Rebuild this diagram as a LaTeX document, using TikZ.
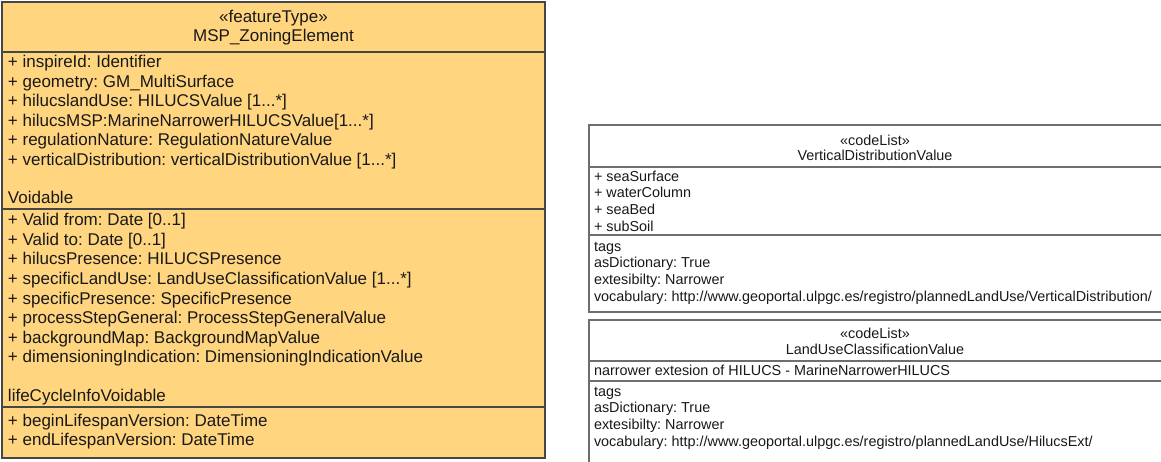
\documentclass[tikz,border=0pt]{standalone}
\usepackage{fontspec}
\setmainfont{Liberation Sans}
\usetikzlibrary{positioning}

\definecolor{featfill}{RGB}{255,213,128}
\definecolor{featline}{RGB}{70,70,70}
\definecolor{codeline}{RGB}{110,110,110}
\newcommand{\tdots}{...}
\frenchspacing

\begin{document}
\begin{tikzpicture}[x=1pt,y=-1pt,
  every node/.style={inner sep=0pt,outer sep=0pt,text=black!90},
  big/.style={font=\fontsize{17}{19}\selectfont,anchor=base west},
  bighead/.style={font=\fontsize{17}{19}\selectfont,anchor=base},
  small/.style={font=\fontsize{14.4}{16}\selectfont,anchor=base west},
  smallhead/.style={font=\fontsize{14.4}{16}\selectfont,anchor=base}]

  \useasboundingbox (0,0) rectangle (1161,462);
  \clip (0,0) rectangle (1161,462);

  % feature type box
  \filldraw[fill=featfill,draw=featline,line width=1.4pt] (2,2) rectangle (545,458);
  \draw[featline,line width=1.3pt] (2,52)--(545,52) (2,209)--(545,209) (2,407)--(545,407);

  \node[bighead] (zst) at (273.5,22.8) {«featureType»};
  \node[bighead] (zname) at (273.5,42) {MSP\_ZoningElement};

  \foreach \txt [count=\i] in {{+ inspireId: Identifier},{+ geometry: GM\_MultiSurface},
    {+ hilucslandUse: HILUCSValue [1\tdots*]},{+ hilucsMSP:MarineNarrowerHILUCSValue[1\tdots*]},
    {+ regulationNature: RegulationNatureValue},{+ verticalDistribution: verticalDistributionValue [1\tdots*]}}
    \node[big] (attr\i) at (8,{68+19.5*(\i-1)}) {\txt};
  \node[big] (voidable) at (8,203.3) {Voidable};

  \foreach \txt [count=\i] in {{+ Valid from: Date [0..1]},{+ Valid to: Date [0..1]},
    {+ hilucsPresence: HILUCSPresence},{+ specificLandUse: LandUseClassificationValue [1\tdots*]},
    {+ specificPresence: SpecificPresence},{+ processStepGeneral: ProcessStepGeneralValue},
    {+ backgroundMap: BackgroundMapValue},{+ dimensioningIndication: DimensioningIndicationValue}}
    \node[big] (void\i) at (8,{226+19.5*(\i-1)}) {\txt};
  \node[big] (lifecycle) at (8,401.1) {lifeCycleInfoVoidable};

  \node[big] (life1) at (8,426) {+ beginLifespanVersion: DateTime};
  \node[big] (life2) at (8,445.5) {+ endLifespanVersion: DateTime};

  % code list VerticalDistributionValue
  \draw[codeline,line width=1.2pt,fill=white] (589,125) rectangle (1163,312);
  \draw[codeline,line width=1.2pt] (589,167)--(1163,167) (589,235)--(1163,235);
  \node[smallhead] (vst) at (875,145.1) {«codeList»};
  \node[smallhead] (vname) at (875,160.6) {VerticalDistributionValue};
  \foreach \txt [count=\i] in {seaSurface,waterColumn,seaBed,subSoil}
    \node[small] (vd\i) at (594,{181.1+16.7*(\i-1)}) {+ \txt};
  \foreach \txt [count=\i] in {tags,{asDictionary: True},{extesibilty: Narrower},
    {vocabulary: http://www.geoportal.ulpgc.es/registro/plannedLandUse/VerticalDistribution/}}
    \node[small] (vtag\i) at (594,{251.1+16.9*(\i-1)}) {\txt};

  % code list LandUseClassificationValue
  \draw[codeline,line width=1.2pt,fill=white] (589,320) rectangle (1163,470);
  \draw[codeline,line width=1.2pt] (589,361)--(1163,361) (589,381)--(1163,381);
  \node[smallhead] (lst) at (875,338.6) {«codeList»};
  \node[smallhead] (lname) at (875,354.6) {LandUseClassificationValue};
  \node[small] (lnote) at (594,375.6) {narrower extesion of HILUCS - MarineNarrowerHILUCS};
  \foreach \txt [count=\i] in {tags,{asDictionary: True},{extesibilty: Narrower},
    {vocabulary: http://www.geoportal.ulpgc.es/registro/plannedLandUse/HilucsExt/}}
    \node[small] (ltag\i) at (594,{396.1+16.7*(\i-1)}) {\txt};
\end{tikzpicture}
\end{document}
